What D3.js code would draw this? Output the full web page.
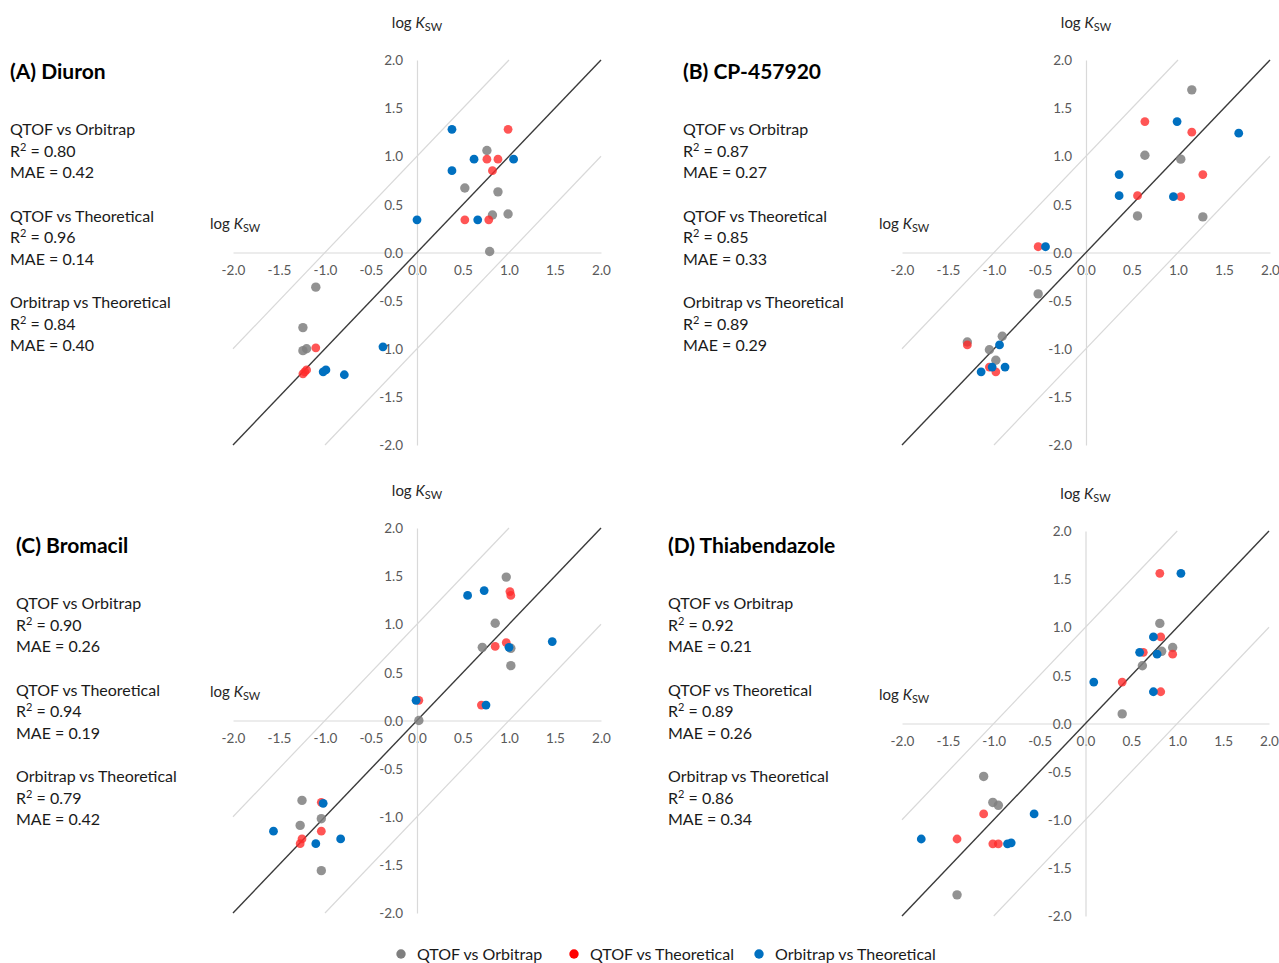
<!DOCTYPE html>
<html><head><meta charset="utf-8">
<script src="https://cdn.jsdelivr.net/npm/d3@7"></script>
<style>
body{margin:0;background:#fff;}
svg text{font-family:Lato,"Open Sans",sans-serif;}
</style></head>
<body><svg id="c" width="1279" height="963"></svg>
<script>
// ---------- data ----------
const seriesNames = ["QTOF vs Orbitrap", "QTOF vs Theoretical", "Orbitrap vs Theoretical"];
const axisTicks = [-2.0, -1.5, -1.0, -0.5, 0.0, 0.5, 1.0, 1.5, 2.0];

const panelTitles = ["(A) Diuron", "(B) CP-457920", "(C) Bromacil", "(D) Thiabendazole"];
const panelStats = [
  [["0.80","0.42"],["0.96","0.14"],["0.84","0.40"]],
  [["0.87","0.27"],["0.85","0.33"],["0.89","0.29"]],
  [["0.90","0.26"],["0.94","0.19"],["0.79","0.42"]],
  [["0.92","0.21"],["0.89","0.26"],["0.86","0.34"]]
];

// (A) Diuron
const diuronQO = [[0.76,1.06],[0.52,0.67],[0.88,0.63],[0.82,0.39],[0.99,0.40],[0.79,0.01],[-1.10,-0.36],[-1.24,-0.78],[-1.24,-1.02],[-1.20,-1.00]];
const diuronQT = [[0.99,1.28],[0.76,0.97],[0.88,0.97],[0.82,0.85],[0.52,0.34],[0.78,0.34],[-1.10,-0.99],[-1.24,-1.26],[-1.20,-1.22],[-1.22,-1.24]];
const diuronOT = [[0.38,1.28],[0.62,0.97],[1.05,0.97],[0.38,0.85],[0.00,0.34],[0.66,0.34],[-0.37,-0.98],[-0.99,-1.22],[-1.02,-1.24],[-0.79,-1.27]];
// (B) CP-457920
const cpQO = [[1.15,1.69],[0.64,1.01],[1.03,0.97],[0.56,0.38],[1.27,0.37],[-0.52,-0.43],[-0.91,-0.87],[-1.29,-0.93],[-1.05,-1.01],[-0.98,-1.12]];
const cpQT = [[0.64,1.36],[1.15,1.25],[1.27,0.81],[0.56,0.59],[1.03,0.58],[-0.52,0.06],[-1.29,-0.96],[-1.05,-1.19],[-0.98,-1.24]];
const cpOT = [[0.99,1.36],[1.66,1.24],[0.36,0.81],[0.36,0.59],[0.95,0.58],[-0.44,0.06],[-0.94,-0.96],[-1.14,-1.24],[-1.02,-1.19],[-0.88,-1.19]];
// (C) Bromacil
const bromQO = [[0.97,1.49],[0.85,1.01],[0.71,0.76],[1.02,0.75],[1.02,0.57],[0.02,0.00],[-1.25,-0.83],[-1.04,-1.02],[-1.27,-1.09],[-1.04,-1.56]];
const bromQT = [[1.01,1.34],[1.02,1.30],[0.97,0.81],[0.85,0.77],[0.70,0.16],[0.02,0.21],[-1.04,-0.85],[-1.04,-1.15],[-1.25,-1.23],[-1.27,-1.28]];
const bromOT = [[0.55,1.30],[0.73,1.35],[1.47,0.82],[1.00,0.76],[0.75,0.16],[-0.01,0.21],[-1.02,-0.86],[-1.56,-1.15],[-0.83,-1.23],[-1.10,-1.28]];
// (D) Thiabendazole
const thiaQO = [[0.81,1.04],[0.95,0.79],[0.83,0.75],[0.62,0.60],[0.40,0.10],[-1.11,-0.55],[-1.01,-0.82],[-0.95,-0.85],[-1.40,-1.78]];
const thiaQT = [[0.81,1.56],[0.82,0.90],[0.95,0.72],[0.63,0.74],[0.40,0.43],[0.82,0.33],[-1.11,-0.94],[-1.40,-1.20],[-1.01,-1.25],[-0.95,-1.25]];
const thiaOT = [[1.04,1.56],[0.74,0.90],[0.59,0.74],[0.78,0.72],[0.09,0.43],[0.74,0.33],[-0.56,-0.94],[-1.79,-1.20],[-0.85,-1.25],[-0.81,-1.24]];

const panelData = [
  [diuronQO, diuronQT, diuronOT],
  [cpQO, cpQT, cpOT],
  [bromQO, bromQT, bromOT],
  [thiaQO, thiaQT, thiaOT]
];

// ---------- layout ----------
const colors = ["#7f7f7f", "#ff2a2a", "#0070c0"];
const legendColors = ["#7f7f7f", "#ff0000", "#0070c0"];
const opac = [0.85, 0.8, 1];
const radii = [4.7, 4.4, 4.4];
const boxes = [
  {x0:233, x1:601, y0:60,  y1:445, tx:10,  ty:72},
  {x0:902, x1:1270,y0:60,  y1:445, tx:683, ty:72},
  {x0:233, x1:601, y0:528, y1:913, tx:16,  ty:546},
  {x0:902, x1:1269,y0:531, y1:916, tx:668, ty:546}
];
const svg = d3.select("#c");
const fmt = d => d3.format(".1f")(d).replace("\u2212", "-");

function axisTitle(g, x, y, anchor){
  const t = g.append("text").attr("x", x).attr("y", y).attr("text-anchor", anchor)
    .attr("font-size", 15).attr("fill", "#262626");
  t.append("tspan").text("log ");
  t.append("tspan").attr("font-style","italic").text("K");
  t.append("tspan").attr("font-size", 11).attr("dy", 3).text("SW");
}

boxes.forEach((b, pi) => {
  const g = svg.append("g");
  const x = d3.scaleLinear().domain([-2, 2]).range([b.x0, b.x1]);
  const y = d3.scaleLinear().domain([-2, 2]).range([b.y1, b.y0]);
  const X0 = x(0), Y0 = y(0);

  const xa = g.append("g").attr("transform", `translate(0,${Y0})`)
    .call(d3.axisBottom(x).tickValues(axisTicks).tickSize(0).tickPadding(13).tickFormat(fmt));
  const ya = g.append("g").attr("transform", `translate(${X0},0)`)
    .call(d3.axisLeft(y).tickValues(axisTicks).tickSize(0).tickPadding(14).tickFormat(fmt));
  [xa, ya].forEach(a => {
    a.select(".domain").attr("stroke", "#d9d9d9").attr("stroke-width", 1.2);
    a.selectAll("text").attr("font-size", 13.5).attr("fill", "#595959").attr("font-family", "Lato, sans-serif");
  });
  ya.selectAll("text").attr("dy", "0.35em");

  const guides = [[[-2,-1],[1,2]], [[-1,-2],[2,1]]];
  const line = d3.line().x(d => x(d[0])).y(d => y(d[1]));
  guides.forEach(gd => g.append("path").attr("d", line(gd)).attr("stroke", "#d9d9d9").attr("stroke-width", 1.2).attr("fill", "none"));
  g.append("path").attr("d", line([[-2,-2],[2,2]])).attr("stroke", "#3a3a3a").attr("stroke-width", 1.4).attr("fill", "none");

  panelData[pi].forEach((ser, si) => {
    g.append("g").selectAll("circle").data(ser).join("circle")
      .attr("cx", d => x(d[0])).attr("cy", d => y(d[1])).attr("r", radii[si])
      .attr("fill", colors[si]).attr("fill-opacity", opac[si]);
  });

  axisTitle(g, X0, b.y0 - 32, "middle");
  axisTitle(g, b.x0 - 23, Y0 - 24, "start");

  g.append("text").attr("x", b.tx).attr("y", b.ty + 7).attr("font-size", 21).attr("font-weight", "bold")
    .attr("fill", "#000").text(panelTitles[pi]);
  panelStats[pi].forEach((st, k) => {
    const base = b.ty + 63 + k * 86.5;
    g.append("text").attr("x", b.tx).attr("y", base).attr("font-size", 16).attr("fill", "#1a1a1a").text(seriesNames[k]);
    const r = g.append("text").attr("x", b.tx).attr("y", base + 21.5).attr("font-size", 16).attr("fill", "#1a1a1a");
    r.append("tspan").text("R");
    r.append("tspan").attr("font-size", 11).attr("dy", -6).text("2");
    r.append("tspan").attr("dy", 6).text(" = " + st[0]);
    g.append("text").attr("x", b.tx).attr("y", base + 43).attr("font-size", 16).attr("fill", "#1a1a1a").text("MAE = " + st[1]);
  });
});

const legX = [401, 574, 759];
const leg = svg.append("g");
seriesNames.forEach((n, i) => {
  leg.append("circle").attr("cx", legX[i]).attr("cy", 954).attr("r", 4.7).attr("fill", legendColors[i]);
  leg.append("text").attr("x", legX[i] + 16).attr("y", 954).attr("dy", "0.35em")
    .attr("font-size", 16).attr("fill", "#1a1a1a").text(n);
});
</script></body></html>
